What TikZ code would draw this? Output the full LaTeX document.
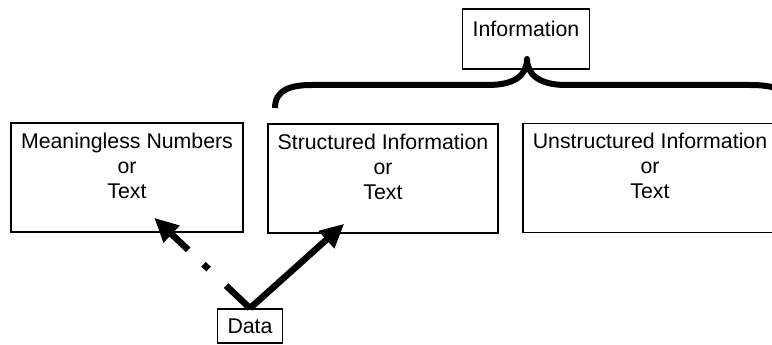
\documentclass[tikz,border=0pt]{standalone}
\usepackage{fontspec}
\setmainfont{Liberation Sans}
\usetikzlibrary{arrows.meta,positioning,calc}
\tikzset{
    box/.style = {draw, rectangle, line width=1.5pt, align=center,
        inner xsep=0pt, inner ysep=9pt, text depth=24pt,
        minimum height=109pt,
        font=\fontsize{21.3pt}{25pt}\selectfont},
    tag/.style = {draw, rectangle, line width=1.5pt,
        inner xsep=10pt,
        font=\fontsize{21.3pt}{25pt}\selectfont},
    arrow/.style = {draw, line width=6.5pt, -{Triangle[length=24pt,width=22pt]}},
    brace/.style = {draw, line width=6pt, line join=round}
}
\begin{document}
\begin{tikzpicture}[x=1pt,y=-1pt]
                \clip (0,0) rectangle (772,345);
                \node[box,minimum width=232pt] (meaning) at (127,177.5) {Meaningless Numbers\\or\\Text};
                \node[box,minimum width=230pt] (struct) at (383,178.5) {Structured Information\\or\\Text};
                \node[box,minimum width=254pt] (unstruct) at (650,178) {Unstructured Information\\or\\Text};
                \node[tag,minimum width=126pt,minimum height=60pt,inner ysep=12pt,text depth=21pt] (info) at (526,39) {Information};
                \node[tag,minimum width=64pt,minimum height=34pt] (data) at (250,326) {Data};
                \coordinate (meanin) at ($(meaning.south west)+(144,-15)$);
                \coordinate (structin) at ($(struct.south west)+(77,-10)$);
                \coordinate (cusp) at ($(info.south)+(1,-11)$);
                % brace under the information box
                \draw[brace] (275,108) .. controls (275,90) and (290,85) .. (312,85) -- (488,85)
                    .. controls (515,85) and (527,75) .. (cusp)
                    .. controls (527,75) and (540,85) .. (566,85) -- (750,85)
                    .. controls (775,85) and (790,90) .. (790,108);
                \draw[arrow] (data.north) -- (structin);
                \draw[arrow,dash pattern=on 33pt off 24pt on 7pt off 21pt on 200pt] (data.north) -- (meanin);
\end{tikzpicture}
\end{document}
